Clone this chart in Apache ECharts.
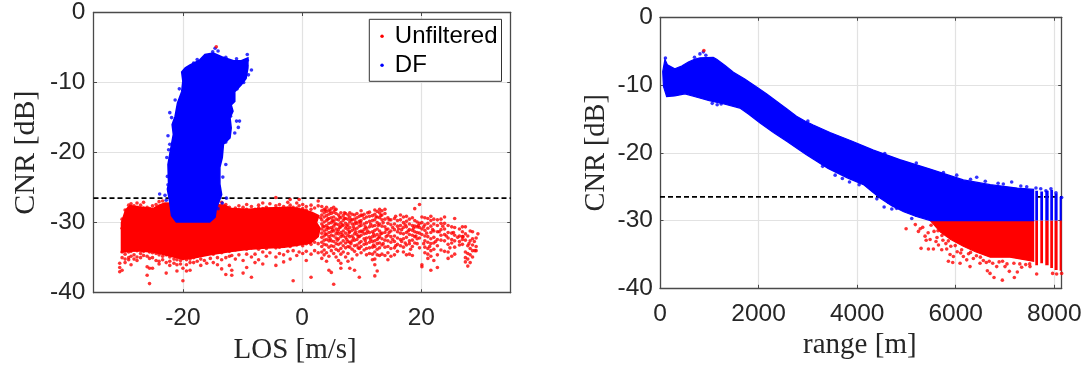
<!DOCTYPE html>
<html><head><meta charset="utf-8">
<style>html,body{margin:0;padding:0;background:#fff}#c{width:1088px;height:370px}</style>
<script src="https://cdn.jsdelivr.net/npm/echarts@6/dist/echarts.min.js"></script>
</head><body><div id="c"></div>
<script>
// ---------- tick labels ----------
const losTicks = [-20, 0, 20];
const rangeTicks = [0, 2000, 4000, 6000, 8000];
const cnrThreshold = -26.5;

// ---------- left panel: CNR vs LOS, dense cloud outlines ----------
const losRedCloud = [[-30.3,-34.2],[-30.3,-30],[-29.6,-28.2],[-28.9,-27.6],[-27,-27.8],[-25,-28],[-24,-27.5],[-23,-27.2],[-13,-27.5],[-12,-28],[-9,-28.1],[-6,-27.9],[-2,-27.8],[0,-28.1],[1.6,-28.5],[2.8,-29],[2.4,-30],[3,-30.8],[2.7,-32],[1.4,-32.9],[0,-33.1],[-3,-33.5],[-6,-33.6],[-9,-33.8],[-12,-34.1],[-15,-34.5],[-18,-35],[-20,-35.2],[-22,-34.8],[-25,-34.2],[-28,-34]];
const losBlueCloud = [[-20.2,-8.5],[-19.6,-7.9],[-18.8,-7.5],[-17.2,-6.8],[-16.3,-6],[-14.9,-5.8],[-13.5,-6.3],[-11.5,-6.9],[-10.2,-6.9],[-9.1,-6.5],[-9.1,-7.9],[-9.4,-9.4],[-10.2,-10.3],[-11.3,-11.3],[-11.3,-12.7],[-11.9,-13.2],[-11.6,-14.1],[-12.1,-15],[-11.9,-16.5],[-12.1,-17.9],[-13.2,-18.8],[-13.4,-20.7],[-13.8,-22.1],[-13.8,-24.5],[-13.5,-26],[-14.4,-28],[-14.6,-29.2],[-15.5,-29.9],[-21.1,-29.9],[-21.9,-29],[-22.2,-27.1],[-22.6,-25.2],[-22.4,-24.5],[-22.5,-21.7],[-21.9,-18.8],[-21.6,-17.4],[-21.8,-16],[-21.3,-14.8],[-20.9,-12.9],[-20.2,-11.3],[-20,-9.8]];
const losBlueOutliers = [[-14.6,-5.1],[-14.1,-5.5],[-15,-5.6],[-9.2,-6],[-9.2,-6.8],[-8.5,-8.2],[-9,-8.9],[-9.3,-7.6],[-11,-15.5],[-10.7,-16.4],[-11.3,-17.2],[-10.5,-15.5],[-22.2,-14.3],[-21.9,-15],[-22.5,-17.6],[-22.2,-18.8],[-21.9,-20],[-22.2,-21.7],[-12.8,-21.7],[-13.3,-23.5],[-23.9,-25.9],[-23,-26.1],[-12.7,-26.5],[-14.1,-28],[-22.6,-23.4],[-22.5,-24.6],[-11.9,-12.4],[-12,-14.8],[-12.8,-18.5],[-22.4,-19.6],[-22.7,-20.7],[-20.6,-10.9],[-21.3,-12.5],[-18.2,-7.2],[-17.6,-6.7],[-12.8,-6.4],[-11,-6.6],[-9.8,-10],[-10.9,-10.9],[-22.8,-26.8],[-13.4,-27.2]];
const losRedEdgeColumns = [
[-30.6,[-35.8,-36.4,-37]],[-30.2,[-29.5,-30.8,-34.2,-35,-36.8]],[-29.7,[-28.2,-34.5,-35.2,-35.7]],[-29.1,[-27.5,-27.9,-34.2,-35,-35.3]],[-28.7,[-27.3,-27.7,-34.1,-34.8,-36]],[-28.2,[-27.6,-28.3,-33.9,-34.6,-35.2]],[-27.7,[-27.2,-27.8,-34,-34.9,-35.4]],[-27.1,[-27.5,-28.1,-33.8,-34.4,-35]],[-26.6,[-27.1,-27.9,-34.1,-34.7]],[-26,[-27.8,-33.9,-34.8,-36.3,-37.5]],[-25.6,[-28,-28.5,-34.2,-35.1,-36.5,-38.7]],[-25.1,[-27.6,-28.2,-34.3,-35,-36.5]],[-24.5,[-27.4,-27.9,-34.4,-35.4]],[-24,[-27,-34.6,-35.5,-35.9]],[-23.4,[-26.9,-34.8,-35.3]],[-22.8,[-34.6,-35.7,-37.2]],[-22.2,[-34.9,-35.5,-36.1]],[-21.5,[-35.2,-35.8]],[-21,[-35.3,-36,-36.9]],[-20.4,[-35.4,-35.9]],[-20,[-35.1,-36.5,-38.3]],[-19.4,[-35.3,-36,-36.9]],[-18.8,[-35.2,-35.7,-36.8]],[-18.2,[-35,-35.7]],[-17.6,[-34.8,-35.5]],[-17,[-34.6,-35.2,-36.1]],[-16.4,[-34.5,-35.4]],[-16,[-34.4,-35.8]],[-15.4,[-34.3,-35.1]],[-14.9,[-34.5,-35.7]],[-14.2,[-34.1,-35,-36]],[-13.5,[-27.1,-34.3,-35.3,-36.6]],[-12.8,[-27.4,-28.1,-34,-35,-37.4]],[-12.2,[-27.8,-28.3,-34.1,-34.8,-36.1]],[-11.8,[-28.4,-33.8,-34.7,-36.8,-37.5]],[-11.2,[-27.9,-28.4,-33.9,-35.2]],[-10.6,[-27.6,-28.2,-33.7,-34.6]],[-9.9,[-27.8,-28.4,-33.6,-35.4,-37.2]],[-9.3,[-27.4,-28.1,-33.8,-34.5,-36.4]],[-8.5,[-27.7,-28.3,-33.6,-34.9,-37.8]],[-7.9,[-28.1,-33.4,-34.5,-35.7]],[-7.3,[-27.5,-27.9,-33.8,-35.3]],[-6.6,[-27.2,-28,-33.5,-34.2,-35.9]],[-6,[-27.8,-33.7,-34.8]],[-5.4,[-27.3,-28.1,-33.4,-34.3]],[-4.4,[-26.4,-27.6,-33.6,-34.9,-36.1]],[-3.8,[-27.4,-28,-33.5,-34.4]],[-3.1,[-27.7,-33.3,-34.6,-35.6]],[-2.4,[-27.1,-27.9,-33.1,-34.1]],[-2,[-26.7,-27.5,-33.4,-35.2]],[-1.5,[-27.8,-33,-34,-38.3]],[-0.9,[-27.2,-27.9,-33.2,-34.7]],[-0.5,[-26.7,-27.6,-32.9,-34.2]],[0.1,[-27.4,-28,-33.3,-34.4]],[0.7,[-27.7,-28.2,-33,-34.1,-35.4]],[1.5,[-27.5,-28.1,-33.1,-34.5,-37.8]],[2.1,[-27.9,-32.8,-34]],[2.7,[-26.9,-27.6,-33,-34.3]]
];
const losRedColumns = [
[3.3,[-27.7,-28.3,-28.9,-29.6,-30.2,-30.9,-31.5,-32.1,-32.8,-33.4,-34.2,-35.1]],
[3.7,[-28.1,-28.6,-29.2,-29.9,-30.6,-31.2,-31.9,-32.5,-33.1,-33.9,-34.6]],
[4.1,[-27.8,-28.4,-29,-29.7,-30.4,-31,-31.7,-32.4,-33.2,-34.3,-35.5]],
[4.5,[-28.2,-28.8,-29.4,-30.1,-30.8,-31.4,-32,-32.6,-33.5,-34.8,-36.8]],
[4.9,[-28,-28.7,-29.3,-30,-30.7,-31.3,-31.8,-32.6,-33.3,-34,-37.1]],
[5.3,[-27.8,-28.5,-29.2,-29.8,-30.5,-31.2,-31.9,-32.7,-33.4,-34.4,-38.8]],
[5.7,[-28.1,-28.7,-29.5,-30.2,-30.9,-31.6,-32.2,-33,-33.8,-34.9]],
[6.1,[-28.9,-29.6,-30.3,-31,-31.6,-32.3,-33.1,-34,-35.4]],
[6.5,[-28.6,-29.3,-30,-30.6,-31.4,-32,-32.9,-33.7,-34.5,-35.8,-36.5]],
[6.9,[-29,-29.7,-30.4,-31.2,-31.9,-32.6,-33.3,-34.2]],
[7.3,[-28.7,-29.4,-30.1,-30.8,-31.5,-32.1,-32.9,-33.6,-34.9]],
[7.7,[-28.9,-29.5,-30.3,-31,-31.8,-32.7,-33.4,-34.4,-35.5]],
[8,[-28.6,-29.2,-29.9,-30.7,-31.3,-32,-32.8,-33.5,-36.5]],
[8.4,[-28.8,-29.6,-30.2,-31.1,-31.9,-32.6,-33.8,-35.2]],
[8.8,[-28.9,-29.5,-30.2,-30.9,-31.6,-32.5,-33.3,-34.1,-36.8]],
[9.2,[-28.7,-29.3,-30.1,-30.8,-31.7,-32.4,-33.2,-34.6]],
[9.6,[-29.1,-29.8,-30.5,-31.3,-32,-32.9,-33.7,-37.8]],
[9.9,[-28.3,-28.9,-29.7,-30.4,-31.2,-31.8,-32.7,-33.4,-34.3]],
[10.4,[-28.8,-29.4,-30.2,-31,-31.6,-32.3,-33.1,-33.9]],
[10.8,[-29.2,-30,-30.8,-31.5,-32.2,-33,-33.7,-34.6]],
[11.3,[-28.5,-29.1,-29.8,-30.6,-31.4,-32.1,-32.8,-33.6,-34.4]],
[11.8,[-29,-29.7,-30.5,-31.3,-32,-32.7,-33.5,-34.5,-35.3]],
[12.2,[-28.2,-28.8,-29.6,-30.4,-31.1,-31.9,-32.6,-33.4,-34.2,-35.2,-36,-37.6]],
[12.6,[-28.4,-29.2,-30,-30.9,-31.7,-32.4,-33,-33.8,-34.6,-36.9]],
[13,[-28.1,-28.6,-29.3,-30.2,-31.2,-32,-32.9,-33.6,-34.7]],
[13.4,[-28.3,-28.9,-29.6,-30.5,-31.5,-32.3,-33.2,-34.5]],
[13.9,[-28.1,-28.7,-29.5,-30.6,-31.4,-32.5,-33.5,-34.7]],
[14.4,[-29.3,-30.1,-30.9,-31.8,-32.6,-33.4,-34.3,-35.3]],
[14.9,[-29.6,-30.3,-31.2,-32,-32.8,-33.7,-34.8]],
[15.5,[-29.4,-30.2,-31,-31.9,-32.7,-33.6,-34.6]],
[16,[-29.7,-30.5,-31.3,-32.2,-33.1,-34.1]],
[16.5,[-28.9,-29.6,-30.4,-31.5,-32.4,-33.3]],
[17,[-29.2,-30,-30.7,-31.6,-32.3,-33.5,-34.2]],
[17.5,[-29.1,-29.8,-30.6,-31.4,-32.1,-33.2,-34.6]],
[18,[-29.5,-30.2,-31,-31.7,-32.6,-33,-34.5]],
[18.5,[-29.3,-30.4,-31.1,-31.8,-32.5,-33.4,-34.7]],
[18.9,[-28,-29.7,-30.5,-31.3,-32,-32.9]],
[19.3,[-29.9,-30.6,-31.4,-32.3,-33]],
[19.7,[-27.4,-30.1,-30.7,-31.5,-32.2,-33.6]],
[20.1,[-29.2,-30,-30.9,-31.7,-36,-36.3]],
[20.6,[-29.3,-30.3,-31.1,-31.9,-32.6,-33.5,-34.3]],
[21.1,[-29.4,-30.1,-30.8,-32,-32.8,-33.7,-34.5,-35.1]],
[21.6,[-29.1,-29.7,-30.5,-31.4,-32.3,-33,-34,-34.8,-36.8]],
[22.1,[-29.5,-30.2,-31.2,-32.1,-32.9,-33.8,-35.4]],
[22.7,[-29.6,-30.4,-31.3,-32.4,-33.3,-34.6,-36.4]],
[23.3,[-29.5,-30.1,-31,-31.8,-32.5,-33.9]],
[23.9,[-29.2,-30.1,-30.9,-31.7,-32.6,-34.1]],
[24.5,[-30.4,-31.4,-32.2,-33.1,-34.2,-35.1]],
[25.1,[-30.6,-31.5,-32.4,-32.9,-34.8]],
[25.6,[-29.4,-30.7,-31.8,-32.6,-33.5,-34.5]],
[26.4,[-30.9,-31.9,-32.7,-33.2]],
[26.9,[-30.6,-31.3,-32,-32.4,-33.1]],
[27.4,[-30.6,-31.6,-32.5,-34.2,-35,-35.6]],
[27.8,[-31.9,-33.3,-34.4,-35.2,-36.2]],
[28.2,[-31.2,-32.6,-33.7,-34.6,-35.7]],
[28.6,[-31.3,-32.3,-33.2,-34,-34.9]],
[29.2,[-32.2,-33.4,-34]],
[29.5,[-31.6]]
];
const losRedFill = [[3.1,-29.3],[3.5,-30.5],[3.9,-28.2],[3.9,-31.6],[4.3,-29.5],[4.3,-30.7],[4.7,-28.4],[4.7,-32.3],[5.1,-29.7],[5.1,-31],[5.5,-28.2],[5.5,-30.2],[5.9,-31.3],[5.9,-32.5],[6.3,-29.2],[6.3,-30.7],[6.7,-30.3],[6.7,-31.7],[7.1,-28.6],[7.1,-29.4],[7.5,-30.5],[7.5,-32.4],[7.9,-31.4],[8.2,-29.6],[8.2,-33],[8.6,-30.6],[8.6,-32.2],[9,-29.9],[9,-31.3],[9.4,-32],[9.4,-33.6],[9.8,-30],[10.1,-31.3],[10.1,-29],[10.6,-30.6],[10.6,-32.6],[11,-28.6],[11,-31.2],[11.5,-30.2],[11.5,-32.4],[12,-31.6],[12,-33.2],[12.4,-29.2],[12.8,-30.4],[12.8,-32.2],[13.2,-29],[13.2,-31.6],[13.6,-30],[13.6,-33],[14.1,-31],[14.1,-32],[14.6,-29.6],[14.6,-31.4],[15.2,-30.7],[15.2,-32.4],[15.7,-29.1],[15.7,-33.3],[16.2,-30.9],[16.7,-31],[16.7,-32.7],[17.3,-30.3],[17.3,-32.9],[17.8,-31.2],[18.2,-33.8],[18.7,-30.8],[19.1,-31.9],[19.5,-30.4],[20.4,-30.6],[20.4,-33],[20.9,-31.5],[21.4,-33.4],[21.9,-31],[22.4,-32.7],[23,-31.3],[23.6,-30.5],[24.2,-31.9],[24.8,-33.6],[25.4,-31.4],[26.1,-32.1],[27,-32],[28,-33],[28.9,-32.7],[29,-34]];

// ---------- right panel: CNR vs range ----------
const rangeBlueCloud = [[55,-8],[100,-6.2],[150,-7],[300,-7.6],[440,-7.2],[575,-6.6],[700,-6.2],[810,-6],[1080,-5.9],[1150,-6.2],[1320,-7.1],[1490,-8.1],[1720,-9.1],[1960,-10.3],[2160,-11.3],[2365,-12.4],[2570,-13.5],[2770,-14.6],[2940,-15.3],[3110,-15.9],[3450,-17],[3900,-18.3],[4330,-19.6],[4865,-21],[5480,-22.4],[6155,-24],[6700,-24.7],[7250,-25.2],[7580,-25.4],[7580,-30],[5485,-30],[5200,-29.4],[4945,-28.7],[4700,-27.8],[4470,-26.7],[4300,-25.7],[4128,-24.7],[3800,-23.7],[3410,-22.3],[2970,-20.3],[2570,-18.3],[2300,-17],[2030,-15.6],[1800,-14.3],[1620,-13.4],[1300,-12.8],[1000,-12.3],[750,-11.8],[507,-11.3],[300,-11.6],[135,-11.7],[70,-10.2]];
const rangeRedCloud = [[5485,-30],[7580,-30],[7580,-36],[7100,-35.4],[6700,-35.4],[6400,-34.6],[6155,-33.8],[5900,-32.8],[5690,-31.7]];
const stripeLeft = [7614,7716,7817,7918,8006,8108];
const stripeRight = [7669,7771,7885,7973,8067,8150];
const stripeBlueTop = [-25.6,-25.7,-25.6,-25.5,-26,-26.5];
const stripeRedBottom = [-36.6,-36.3,-36.6,-37,-37.3,-37.4];
const rangeBlueOutliers = [[4547,-28],[4703,-28.3],[4635,-27.3],[3845,-24.3],[3554,-23.3],[5108,-29.7],[5200,-29.2],[6426,-23.6],[6020,-23.3],[7135,-24.3],[6966,-24.6],[7440,-25],[7628,-25.2],[7830,-25.6],[7932,-25.3],[8034,-25.9],[8149,-26.6],[810,-5.4],[880,-5.1],[930,-5.6],[1060,-12.7],[1160,-12.9],[1240,-12.8],[700,-5.9],[4400,-26.8],[4800,-28.2],[6300,-23.9],[6600,-24.2],[6860,-24.5],[7725,-25.3],[7320,-24.9],[5750,-22.9],[5200,-21.5],[110,-6],[4560,-20.1],[3000,-15.3],[3300,-22],[3700,-23.8],[4040,-24.7]];
const rangeRedOutliers = [[890,-4.9],[4993,-31.2],[5297,-34.1],[5446,-34.2],[5547,-34.2],[5650,-33.6],[5851,-36],[5939,-36.2],[6088,-36.3],[6290,-36.8],[6493,-36.3],[6642,-37.4],[6696,-37.8],[6777,-38.4],[6946,-38.8],[7189,-38.4],[7250,-37.6],[7088,-37.5],[6831,-36.8],[7000,-36.8],[7338,-36.9],[7507,-36.8],[7642,-37.9],[7966,-37.8],[8047,-37.9],[8149,-37.8],[5243,-31.6],[5280,-31.2],[5378,-32.3],[5400,-32.9],[5480,-32.8],[5716,-34.3],[5817,-34.2],[5885,-35],[5953,-35.3],[6155,-35.3],[6223,-35.8],[6358,-35.6],[5560,-31.6],[5620,-32.5],[5740,-32.9],[5800,-33.4],[5900,-33.8],[6030,-34.6],[6100,-34.8],[6260,-34.9],[6420,-35.2],[6560,-35.9],[6620,-36.2],[6750,-36.3],[6880,-36.1],[7040,-36.4],[7180,-36.3],[7300,-36.4],[7420,-36.5],[5180,-30.6],[5330,-31],[5440,-31.8],[5600,-33.1],[5500,-30.7],[5640,-31.5],[5720,-32.2],[5850,-33],[5990,-33.7],[6120,-34.3],[6300,-34.7],[6500,-35.4],[6680,-36],[6950,-36],[7500,-36.4]];
</script>
<script>
const chart = echarts.init(document.getElementById('c'), null, {renderer:'canvas'});
const expand = cols => cols.flatMap(([x, ys]) => ys.map(y => [x, y]));
const RED = '#ff0000', BLUE = '#0000ff', INK = '#262626', FRAME = '#4a4a4a';
const stripeBlue = stripeLeft.map((l,i)=>[[l,stripeBlueTop[i]],[stripeRight[i],stripeBlueTop[i]],[stripeRight[i],-30],[l,-30]]);
const stripeRed = stripeLeft.map((l,i)=>[[l,-30],[stripeRight[i],-30],[stripeRight[i],stripeRedBottom[i]],[l,stripeRedBottom[i]]]);

const rects = [{left:93.5,top:10.7,width:417.2,height:282},{left:660,top:17.3,width:401.7,height:271}];
const grids = rects.map(r => ({...r, show:false, containLabel:false}));

const line = {show:true, onZero:false, lineStyle:{color:FRAME, width:1.3}};
function xAxis(i, min, max, ticks, name, nameGap, nameSize, padding){
  const base = {type:'value', gridIndex:i, min, max, silent:true};
  return [
    {...base, position:'bottom', axisLine:line, name, nameLocation:'middle', nameGap,
     nameTextStyle:{fontFamily:'Liberation Serif', fontSize:nameSize, color:INK, padding},
     axisTick:{show:true, inside:true, length:3.5, customValues:ticks, lineStyle:{color:FRAME}},
     axisLabel:{show:true, customValues:ticks, margin:13, fontFamily:'Liberation Sans', fontSize:24.5, color:INK, formatter:v => String(v)},
     splitLine:{show:true, lineStyle:{color:'#e2e2e2', width:1.2}}},
    {...base, position:'top', axisLine:line,
     axisTick:{show:true, inside:true, length:3.5, customValues:ticks, lineStyle:{color:FRAME}},
     axisLabel:{show:false}, splitLine:{show:false}}
  ];
}
function yAxis(i, gap, nameSize, margin){
  const base = {type:'value', gridIndex:i, min:-40, max:0, interval:10, silent:true};
  return [
    {...base, position:'left', axisLine:line, name:'CNR [dB]', nameLocation:'middle', nameGap:gap, nameRotate:90,
     nameTextStyle:{fontFamily:'Liberation Serif', fontSize:nameSize, color:INK},
     axisTick:{show:true, inside:true, length:3.5, lineStyle:{color:FRAME}},
     axisLabel:{show:true, margin, fontFamily:'Liberation Sans', fontSize:24.5, color:INK},
     splitLine:{show:true, lineStyle:{color:'#e2e2e2', width:1.2}}},
    {...base, position:'right', axisLine:line,
     axisTick:{show:true, inside:true, length:3.5, lineStyle:{color:FRAME}},
     axisLabel:{show:false}, splitLine:{show:false}}
  ];
}
const polySeries = (name, polys, color, xi, yi, z, lineWidth) => ({
  name, type:'custom', coordinateSystem:'cartesian2d', xAxisIndex:xi, yAxisIndex:yi, z, silent:true, clip:true,
  data: polys.map(p => p[0]),
  renderItem(params, api){
    return {type:'polygon', shape:{points:polys[params.dataIndex].map(q => api.coord(q))},
            style:{fill:color, stroke:color, lineWidth}};
  }
});
const dots = (name, data, color, xi, yi, z) => ({
  name, type:'scatter', xAxisIndex:xi, yAxisIndex:yi, z, data, symbol:'circle', symbolSize:3.6,
  itemStyle:{color}, silent:true, large:false, animation:false
});
const dash = (data, xi, yi) => ({type:'line', xAxisIndex:xi, yAxisIndex:yi, z:2, data, symbol:'none', silent:true,
  lineStyle:{color:'#000', width:1.6, type:[5,3]}});

const option = {
  animation:false,
  backgroundColor:'#fff',
  grid:grids,
  legend:{
    show:true, left:369.3, top:19.3, orient:'vertical', padding:[5,4,4,11], itemGap:5,
    itemWidth:3.5, itemHeight:3.5, icon:'circle', borderColor:'#333', borderWidth:1, backgroundColor:'#fff', z:20,
    data:[{name:'Unfiltered',itemStyle:{color:RED}},{name:'DF',itemStyle:{color:BLUE}}],
    textStyle:{fontFamily:'Liberation Sans', fontSize:24, color:'#000', padding:[0,0,0,6]}
  },
  xAxis:[...xAxis(0,-35,35,losTicks,'LOS [m/s]',40.5,29,[0,14,0,0]), ...xAxis(1,0,8150,rangeTicks,'range [m]',42.5,29,[0,2,0,0])],
  yAxis:[...yAxis(0,52,30,8), ...yAxis(1,49.5,28.4,7)],
  series:[
    dash([[-35,cnrThreshold],[35,cnrThreshold]],0,0),
    polySeries('Unfiltered',[losRedCloud],RED,0,0,3,1.6),
    dots('Unfiltered',expand(losRedEdgeColumns).concat(expand(losRedColumns),losRedFill),RED,0,0,3),
    polySeries('DF',[losBlueCloud],BLUE,0,0,5,1.6),
    dots('DF',losBlueOutliers,BLUE,0,0,5),
    dots('Unfiltered',[[-14.4,-4.9]],RED,0,0,6),
    dash([[0,cnrThreshold],[8150,cnrThreshold]],2,2),
    polySeries('Unfiltered',[rangeRedCloud],RED,2,2,3,1.2),
    polySeries('Unfiltered',stripeRed,RED,2,2,3,0),
    dots('Unfiltered',rangeRedOutliers.slice(1),RED,2,2,3),
    polySeries('DF',[rangeBlueCloud],BLUE,2,2,5,1.2),
    polySeries('DF',stripeBlue,BLUE,2,2,5,0),
    dots('DF',rangeBlueOutliers,BLUE,2,2,5),
    dots('Unfiltered',rangeRedOutliers.slice(0,1),RED,2,2,6)
  ]
};
chart.setOption(option);
</script></body></html>
